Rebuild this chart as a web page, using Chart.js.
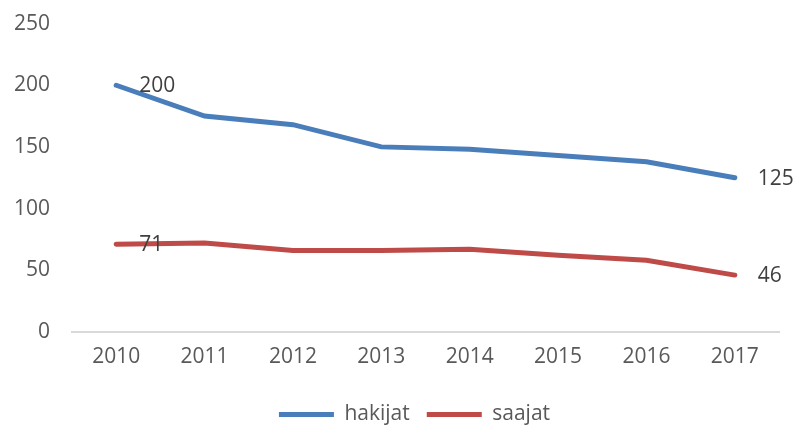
<!DOCTYPE html>
<html>
<head>
<meta charset="utf-8">
<script src="https://cdn.jsdelivr.net/npm/chart.js@4.4.0/dist/chart.umd.min.js"></script>
<style>
  html, body { margin: 0; padding: 0; background: #fff; }
  #wrap { width: 798px; height: 427px; }
</style>
</head>
<body>
<div id="wrap"><canvas id="myChart"></canvas></div>
<script>
var vuodet = ['2010', '2011', '2012', '2013', '2014', '2015', '2016', '2017'];
var hakijat = [200, 175, 168, 150, 148, 143, 138, 125];
var saajat = [71, 72, 66, 66, 67, 62, 58, 46];
var yTicks = [0, 50, 100, 150, 200, 250];

// arvot vain ensimmäiseen ja viimeiseen pisteeseen
var labelIndexes = [0, vuodet.length - 1];

var endLabels = {
    id: 'endLabels',
    afterDatasetsDraw: function(chart){
        var ctx = chart.ctx;
        ctx.save();
        ctx.font = '21px "Open Sans"';
        ctx.fillStyle = '#404040';
        ctx.textAlign = 'left';
        ctx.textBaseline = 'middle';
        chart.data.datasets.forEach(function(ds, i){
            var meta = chart.getDatasetMeta(i);
            labelIndexes.forEach(function(j){
                var p = meta.data[j];
                ctx.fillText(ds.data[j], p.x + 23, p.y + 1);
            });
        });
        ctx.restore();
    }
};

// legenda vähän alemmas ja oikealle kuten alkuperäisessä
var legendMove = {
    id: 'legendMove',
    afterLayout: function(chart){
        chart.legend.top += 8;
        chart.legend.bottom += 8;
        chart.legend.left += 18;
        chart.legend.right += 18;
    }
};

const ctx = document.getElementById('myChart');

new Chart(ctx, {
    type: 'line',
    data: {
        labels: vuodet,
        datasets: [{
            label: 'hakijat',
            data: hakijat,
            borderColor: '#4a7ebb',
            backgroundColor: '#4a7ebb',
            borderWidth: 5,
            pointRadius: 0,
            borderCapStyle: 'round',
            tension: 0
        }, {
            label: 'saajat',
            data: saajat,
            borderColor: '#be4b48',
            backgroundColor: '#be4b48',
            borderWidth: 5,
            pointRadius: 0,
            borderCapStyle: 'round',
            tension: 0
        }]
    },
    options: {
        responsive: true,
        maintainAspectRatio: false,
        animation: false,
        layout: { padding: { left: 14, right: 19, top: 0, bottom: 0 } },
        plugins: {
            tooltip: { enabled: false },
            legend: {
                position: 'bottom',
                labels: {
                    usePointStyle: true,
                    pointStyle: 'line',
                    pointStyleWidth: 55,
                    boxHeight: 5,
                    color: '#595959',
                    font: { family: '"Open Sans"', size: 21 },
                    padding: 17
                }
            }
        },
        scales: {
            x: {
                offset: true,
                grid: { display: false },
                border: { display: true, color: '#d9d9d9', width: 2 },
                afterFit: function(axis){
                    axis.height += 4;
                },
                ticks: {
                    color: '#595959',
                    font: { family: '"Open Sans"', size: 21 },
                    padding: 5,
                    maxRotation: 0
                }
            },
            y: {
                min: 0,
                max: 250,
                afterBuildTicks: function(axis){
                    axis.ticks = yTicks.map(function(v){ return { value: v }; });
                },
                afterFit: function(axis){
                    axis.width = 58;
                },
                grid: { display: false, tickLength: 11 },
                border: { display: false },
                ticks: {
                    color: '#595959',
                    font: { family: '"Open Sans"', size: 21 },
                    padding: 11
                }
            }
        }
    },
    plugins: [endLabels, legendMove]
});
</script>
</body>
</html>
